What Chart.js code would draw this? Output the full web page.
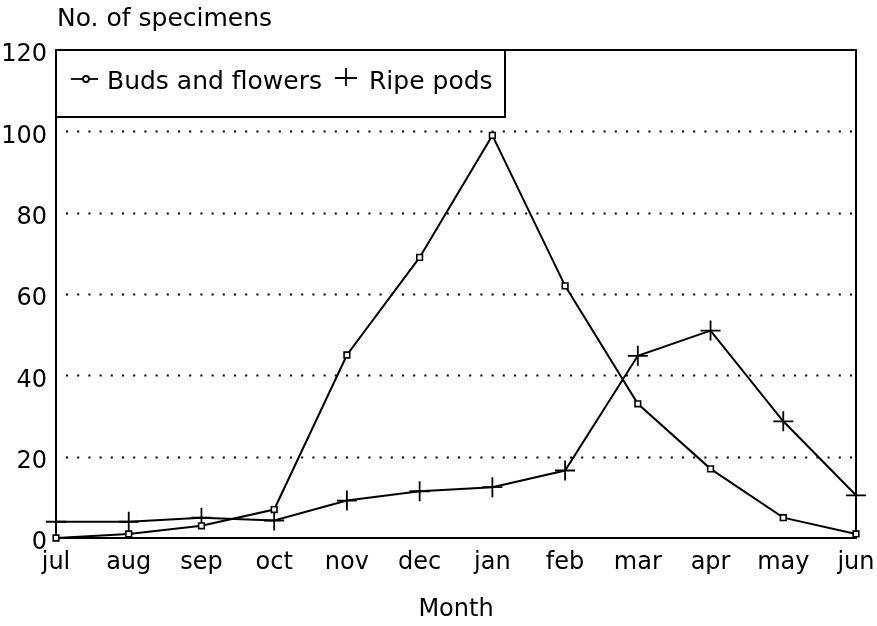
<!DOCTYPE html>
<html>
<head>
<meta charset="utf-8">
<script src="https://cdn.jsdelivr.net/npm/chart.js@4/dist/chart.umd.min.js"></script>
<style>
  html, body { margin: 0; padding: 0; background: #fff; }
  #wrap { width: 877px; height: 626px; }
</style>
</head>
<body>
<div id="wrap"><canvas id="c" width="877" height="626"></canvas></div>
<script>
const months = ['jul','aug','sep','oct','nov','dec','jan','feb','mar','apr','may','jun'];
const budsAndFlowers = [0, 1, 3, 7, 45, 69, 99, 62, 33, 17, 5, 1];
const ripePods = [4, 4, 5, 4.3, 9.2, 11.5, 12.5, 16.6, 44.8, 51, 28.7, 10.5];
const yTicks = [0, 20, 40, 60, 80, 100, 120];
const yTitle = 'No. of specimens';
const xTitle = 'Month';

const FONT = '"DejaVu Sans", "Liberation Sans", Arial, sans-serif';

const framePlugin = {
  id: 'frame',
  beforeDatasetsDraw(chart) {
    const ctx = chart.ctx, a = chart.chartArea, ys = chart.scales.y;
    ctx.save();
    ctx.strokeStyle = '#000';
    ctx.lineWidth = 2;
    ctx.setLineDash([2, 9.2]);
    yTicks.forEach(v => {
      if (v === 0 || v === 120) return;
      const y = Math.round(ys.getPixelForValue(v)) + 0.5;
      ctx.beginPath();
      ctx.moveTo(a.left + 10, y);
      ctx.lineTo(a.right, y);
      ctx.stroke();
    });
    ctx.setLineDash([]);
    ctx.lineWidth = 2;
    ctx.beginPath();
    ctx.moveTo(a.left, a.top);
    ctx.lineTo(a.right, a.top);
    ctx.lineTo(a.right, a.bottom);
    ctx.stroke();
    ctx.fillStyle = '#000';
    ctx.font = '25px ' + FONT;
    ctx.textBaseline = 'alphabetic';
    ctx.textAlign = 'left';
    ctx.fillText(yTitle, 57, 26);
    ctx.restore();
  },
  afterDatasetsDraw(chart) {
    const ctx = chart.ctx, a = chart.chartArea;
    ctx.save();
    const bx = a.left, by = a.top, bw = 505 - a.left, bh = 117 - a.top;
    ctx.fillStyle = '#fff';
    ctx.fillRect(bx, by, bw, bh);
    ctx.strokeStyle = '#000';
    ctx.lineWidth = 2;
    ctx.strokeRect(bx, by, bw, bh);
    const ds = chart.data.datasets;
    ctx.font = '25px ' + FONT;
    ctx.fillStyle = '#000';
    ctx.textBaseline = 'middle';
    ctx.textAlign = 'left';
    ctx.lineWidth = 1.8;
    ctx.beginPath();
    ctx.moveTo(bx + 15, by + 29);
    ctx.lineTo(bx + 42, by + 29);
    ctx.stroke();
    ctx.beginPath();
    ctx.arc(bx + 30, by + 29, 3, 0, Math.PI * 2);
    ctx.fillStyle = '#fff';
    ctx.fill();
    ctx.stroke();
    ctx.fillStyle = '#000';
    ctx.fillText(ds[0].label, bx + 51, by + 32);
    const cx = 346, cy = by + 28;
    ctx.beginPath();
    ctx.moveTo(cx - 11, cy); ctx.lineTo(cx + 11, cy);
    ctx.moveTo(cx, cy - 10); ctx.lineTo(cx, cy + 8);
    ctx.stroke();
    ctx.fillText(ds[1].label, 369, by + 32);
    ctx.restore();
  }
};

new Chart(document.getElementById('c'), {
  type: 'line',
  data: {
    labels: months,
    datasets: [
      {
        label: 'Buds and flowers',
        data: budsAndFlowers,
        borderColor: '#000',
        borderWidth: 2,
        pointStyle: 'rect',
        pointRadius: 4,
        pointBackgroundColor: '#fff',
        pointBorderColor: '#000',
        pointBorderWidth: 1.6,
        tension: 0,
        clip: false
      },
      {
        label: 'Ripe pods',
        data: ripePods,
        borderColor: '#000',
        borderWidth: 2,
        pointStyle: 'cross',
        pointRadius: 10,
        pointBorderColor: '#000',
        pointBorderWidth: 1.8,
        tension: 0,
        clip: false
      }
    ]
  },
  options: {
    responsive: false,
    animation: false,
    events: [],
    layout: { padding: { top: 50, right: 21, left: 0, bottom: 0 } },
    plugins: {
      legend: { display: false },
      title: { display: false },
      tooltip: { enabled: false }
    },
    scales: {
      x: {
        type: 'category',
        offset: false,
        grid: { display: false, drawTicks: false },
        border: { display: true, color: '#000', width: 2 },
        ticks: {
          color: '#000',
          font: { family: FONT, size: 24 },
          padding: 10,
          maxRotation: 0,
          autoSkip: false
        },
        title: {
          display: true,
          text: xTitle,
          color: '#000',
          font: { family: FONT, size: 24 },
          padding: { top: 0, bottom: 2 }
        },
        afterFit(scale) { scale.height = 88; scale.paddingLeft = 0; scale.paddingRight = 0; }
      },
      y: {
        min: 0,
        max: 120,
        grid: { display: false, drawTicks: false },
        border: { display: true, color: '#000', width: 2 },
        ticks: {
          stepSize: 20,
          color: '#000',
          font: { family: FONT, size: 24 },
          padding: 9,
          labelOffset: 5
        },
        afterFit(scale) { scale.width = 56; scale.paddingTop = 0; scale.paddingBottom = 0; }
      }
    }
  },
  plugins: [framePlugin]
});
</script>
</body>
</html>
